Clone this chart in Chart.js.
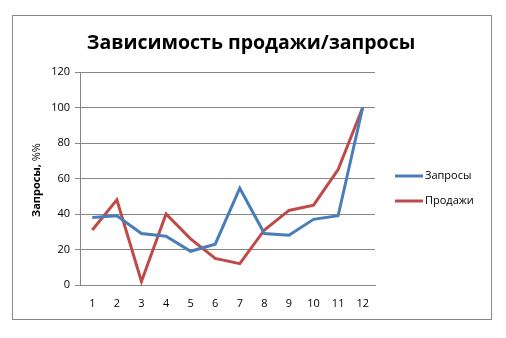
<!DOCTYPE html>
<html>
<head>
<meta charset="utf-8">
<script src="https://cdn.jsdelivr.net/npm/chart.js@4.4.0/dist/chart.umd.min.js"></script>
<style>
  html, body { margin: 0; padding: 0; background: #fff; }
  #wrap { width: 506px; height: 338px; }
</style>
</head>
<body>
<div id="wrap"><canvas id="chart" width="506" height="338"></canvas></div>
<script>
const months = ['1', '2', '3', '4', '5', '6', '7', '8', '9', '10', '11', '12'];
const requests = [38, 39, 29, 27.5, 19, 23, 54.5, 29, 28, 37, 39, 100];
const sales = [31, 48, 2, 40, 26, 15, 12, 31, 42, 45, 65, 100];
const yTicks = [0, 20, 40, 60, 80, 100, 120];

const chartTitle = 'Зависимость продажи/запросы';
const yTitleBold = 'Запросы,';
const yTitleRest = ' %%';

const blue = '#4a7ebb';
const red = '#be4b48';
const fontName = '"Open Sans", "DejaVu Sans", sans-serif';

// frame, title, y title and legend drawn by hand to match the Excel look
const decor = {
  id: 'decor',
  beforeDraw(chart) {
    const c = chart.ctx;
    c.save();
    c.fillStyle = '#fff';
    c.fillRect(0, 0, chart.width, chart.height);
    c.strokeStyle = '#888';
    c.lineWidth = 1;
    c.strokeRect(12.5, 15.5, 479, 304);
    c.restore();
  },
  afterDraw(chart) {
    const c = chart.ctx;
    c.save();
    c.fillStyle = '#000';
    c.textBaseline = 'middle';
    c.textAlign = 'center';
    c.font = 'bold 19.5px ' + fontName;
    c.fillText(chartTitle, 251, 43);

    // y axis title, rotated
    c.translate(37, 180);
    c.rotate(-Math.PI / 2);
    c.font = 'bold 11px ' + fontName;
    const w1 = c.measureText(yTitleBold).width;
    c.font = '11px ' + fontName;
    const w2 = c.measureText(yTitleRest).width;
    c.textAlign = 'left';
    c.font = 'bold 11px ' + fontName;
    c.fillText(yTitleBold, -(w1 + w2) / 2, 0);
    c.font = '11px ' + fontName;
    c.fillText(yTitleRest, -(w1 + w2) / 2 + w1, 0);
    c.restore();

    // legend
    c.save();
    c.font = '11px ' + fontName;
    c.textBaseline = 'middle';
    c.textAlign = 'left';
    chart.data.datasets.forEach((ds, i) => {
      const y = 176 + i * 25;
      c.strokeStyle = ds.borderColor;
      c.lineWidth = 3;
      c.beginPath();
      c.moveTo(395, y);
      c.lineTo(423, y);
      c.stroke();
      c.fillStyle = '#000';
      c.fillText(ds.label, 425, y);
    });
    c.restore();
  }
};

new Chart(document.getElementById('chart'), {
  type: 'line',
  data: {
    labels: months,
    datasets: [
      { label: 'Запросы', data: requests, borderColor: blue, backgroundColor: blue, borderWidth: 3, pointRadius: 0, tension: 0 },
      { label: 'Продажи', data: sales, borderColor: red, backgroundColor: red, borderWidth: 3, pointRadius: 0, tension: 0 }
    ]
  },
  options: {
    responsive: false,
    animation: false,
    layout: { padding: { top: 72, right: 131, left: 0, bottom: 0 } },
    plugins: { legend: { display: false }, title: { display: false }, tooltip: { enabled: false } },
    scales: {
      x: {
        offset: true,
        grid: { display: false, drawTicks: false },
        border: { display: true, color: '#868686', width: 1 },
        ticks: { color: '#000', padding: 12, maxRotation: 0, font: { family: fontName, size: 11 } },
        afterFit(scale) { scale.height = 53; }
      },
      y: {
        min: 0,
        max: 120,
        afterBuildTicks(scale) { scale.ticks = yTicks.map(v => ({ value: v })); },
        grid: { color: '#868686', lineWidth: 1, drawTicks: true, tickLength: 5 },
        border: { display: true, color: '#868686', width: 1 },
        ticks: { color: '#000', padding: 5, font: { family: fontName, size: 11 } },
        afterFit(scale) { scale.width = 80; }
      }
    }
  },
  plugins: [decor]
});
</script>
</body>
</html>
